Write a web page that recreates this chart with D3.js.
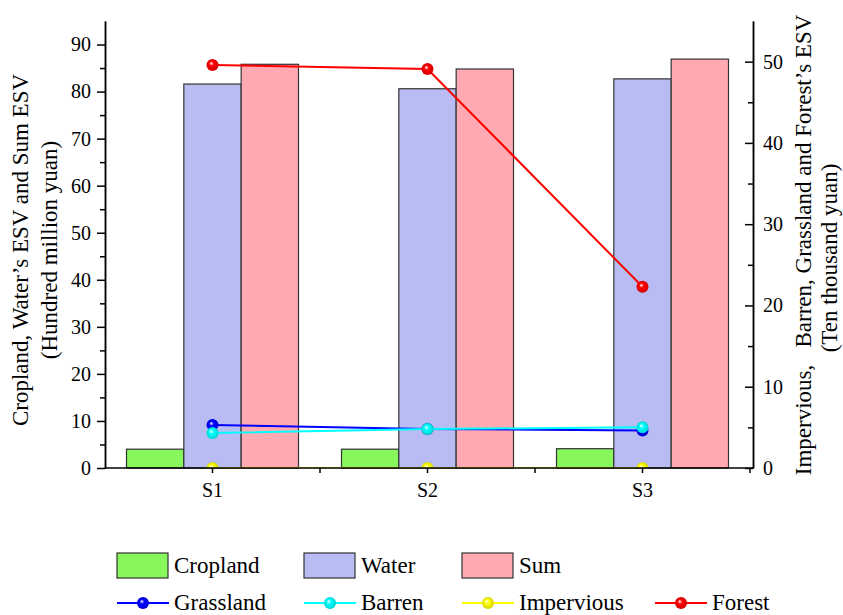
<!DOCTYPE html>
<html>
<head>
<meta charset="utf-8">
<script src="https://cdn.jsdelivr.net/npm/d3@7/dist/d3.min.js"></script>
<style>
  body { margin: 0; background: #fff; }
  svg { font-family: "Liberation Serif", "Times New Roman", serif; }
</style>
</head>
<body>
<div class="canvas"></div>
<script>
"use strict";

// data
const scenarios = ["S1", "S2", "S3"];
const barKeys = ["Cropland", "Water", "Sum"];
const cropland = [4.0, 4.0, 4.1];
const water = [81.6, 80.6, 82.7];
const sum = [85.8, 84.8, 86.9];

const lineKeys = ["Grassland", "Barren", "Impervious", "Forest"];
const grassland = [5.3, 4.8, 4.6];
const barren = [4.3, 4.8, 5.0];
const impervious = [0, 0, 0];
const forest = [49.6, 49.1, 22.3];

const leftTicks = [0, 10, 20, 30, 40, 50, 60, 70, 80, 90];
const rightTicks = [0, 10, 20, 30, 40, 50];

const barColors = { Cropland: "#88f75c", Water: "#b8bcf2", Sum: "#ffaab2" };
const lineColors = { Grassland: "#0000ff", Barren: "#00ffff", Impervious: "#ffff00", Forest: "#ff0000" };

const barData = { Cropland: cropland, Water: water, Sum: sum };
const lineData = { Grassland: grassland, Barren: barren, Impervious: impervious, Forest: forest };

const width = 843, height = 615;
const margin = { top: 21, left: 105, right: 90, bottom: 147 };
const plotBottom = height - margin.bottom; // 468
const plotRight = width - margin.right;    // 753

const svg = d3.select(".canvas").append("svg")
  .attr("width", width)
  .attr("height", height);

// sphere-like marker gradients
const defs = svg.append("defs");
lineKeys.forEach((key) => {
  const g = defs.append("radialGradient")
    .attr("id", `ball-${key}`)
    .attr("cx", "50%").attr("cy", "50%").attr("r", "55%")
    .attr("fx", "38%").attr("fy", "35%");
  g.append("stop").attr("offset", "0%").attr("stop-color", "#ffffff");
  g.append("stop").attr("offset", "35%").attr("stop-color", lineColors[key]);
  g.append("stop").attr("offset", "100%").attr("stop-color", d3.color(lineColors[key]).darker(0.6));
});
defs.append("clipPath").attr("id", "plot-clip")
  .append("rect")
  .attr("x", margin.left).attr("y", 0)
  .attr("width", plotRight - margin.left).attr("height", plotBottom);

const x = d3.scaleBand().domain(scenarios).range([margin.left, plotRight - 3]).padding(0);
const groupW = x.bandwidth() * 0.8;
const xInner = d3.scaleBand().domain(barKeys).range([0, groupW]).padding(0);

const yLeft = d3.scaleLinear().domain([0, 95]).range([plotBottom, margin.top]);
const yRight = d3.scaleLinear().domain([0, 55]).range([plotBottom, margin.top]);

// bars
const groups = svg.append("g").selectAll("g")
  .data(scenarios)
  .join("g")
  .attr("transform", (d) => `translate(${x(d) + (x.bandwidth() - groupW) / 2},0)`);

groups.selectAll("rect")
  .data((d, i) => barKeys.map((k) => ({ key: k, value: barData[k][i] })))
  .join("rect")
  .attr("x", (d) => xInner(d.key))
  .attr("width", xInner.bandwidth())
  .attr("y", (d) => yLeft(d.value))
  .attr("height", (d) => yLeft(0) - yLeft(d.value))
  .attr("fill", (d) => barColors[d.key])
  .attr("stroke", "#333")
  .attr("stroke-width", 1.2);

// lines on right axis, clipped to the plot area
const cx = (d) => x(d) + x.bandwidth() / 2;
const lineLayer = svg.append("g").attr("clip-path", "url(#plot-clip)");
lineKeys.forEach((key) => {
  const pts = scenarios.map((s, i) => [cx(s), yRight(lineData[key][i])]);
  lineLayer.append("path")
    .attr("d", d3.line()(pts))
    .attr("fill", "none")
    .attr("stroke", lineColors[key])
    .attr("stroke-width", 2);
  lineLayer.append("g").selectAll("circle")
    .data(pts)
    .join("circle")
    .attr("cx", (d) => d[0])
    .attr("cy", (d) => d[1])
    .attr("r", 6)
    .attr("fill", `url(#ball-${key})`);
});

// axes
const axisStyle = (g) => {
  g.selectAll("path.domain").attr("stroke", "#000").attr("stroke-width", 1.5);
  g.selectAll(".tick line").attr("stroke", "#000").attr("stroke-width", 1.5);
  g.selectAll("text").attr("font-family", "Liberation Serif").attr("font-size", 20).attr("fill", "#000");
};

svg.append("g")
  .attr("transform", `translate(${margin.left},0)`)
  .call(d3.axisLeft(yLeft).tickValues(d3.range(5, 95, 10)).tickSize(5).tickFormat("").tickSizeOuter(0))
  .call(axisStyle);
svg.append("g")
  .attr("transform", `translate(${margin.left},0)`)
  .call(d3.axisLeft(yLeft).tickValues(leftTicks).tickSize(8).tickPadding(6).tickSizeOuter(0))
  .call(axisStyle);

// right axis ticks point inward
svg.append("g")
  .attr("transform", `translate(${plotRight},0)`)
  .call(d3.axisRight(yRight).tickValues(d3.range(5, 55, 10)).tickSize(-5).tickFormat("").tickSizeOuter(0))
  .call(axisStyle);
svg.append("g")
  .attr("transform", `translate(${plotRight},0)`)
  .call(d3.axisRight(yRight).tickValues(rightTicks).tickSize(-8).tickPadding(10).tickSizeOuter(0))
  .call(axisStyle);

const xAxisG = svg.append("g")
  .attr("transform", `translate(0,${plotBottom})`);
xAxisG.append("line")
  .attr("x1", margin.left).attr("x2", plotRight)
  .attr("stroke", "#000").attr("stroke-width", 1.5);
const xTickPos = scenarios.map((s) => x(s) + x.bandwidth()).concat(scenarios.map(cx));
xAxisG.selectAll("line.tick")
  .data(xTickPos)
  .join("line")
  .attr("class", "tick")
  .attr("x1", (d) => d).attr("x2", (d) => d)
  .attr("y1", 0).attr("y2", 5)
  .attr("stroke", "#000").attr("stroke-width", 1.5);
xAxisG.selectAll("text")
  .data(scenarios)
  .join("text")
  .attr("x", cx)
  .attr("y", 29)
  .attr("text-anchor", "middle")
  .attr("font-size", 20)
  .text((d) => d);

// axis titles
svg.append("text")
  .attr("transform", "translate(28,250) rotate(-90)")
  .attr("text-anchor", "middle")
  .attr("font-size", 23)
  .text("Cropland, Water\u2019s ESV and Sum ESV");
svg.append("text")
  .attr("transform", "translate(57,250) rotate(-90)")
  .attr("text-anchor", "middle")
  .attr("font-size", 23)
  .text("(Hundred million yuan)");

svg.append("text")
  .attr("transform", "translate(811,245) rotate(-90)")
  .attr("text-anchor", "middle")
  .attr("font-size", 23)
  .text("Impervious,\u00a0\u00a0\u00a0Barren, Grassland and Forest\u2019s ESV");
svg.append("text")
  .attr("transform", "translate(837,258) rotate(-90)")
  .attr("text-anchor", "middle")
  .attr("font-size", 23)
  .text("(Ten thousand yuan)");

// legend
const legend = svg.append("g").attr("font-size", 23);
const row1 = [{ key: "Cropland", x: 117 }, { key: "Water", x: 304 }, { key: "Sum", x: 462 }];
const row2 = [{ key: "Grassland", x: 117 }, { key: "Barren", x: 304 }, { key: "Impervious", x: 462 }, { key: "Forest", x: 655 }];

row1.forEach((d) => {
  legend.append("rect")
    .attr("x", d.x).attr("y", 553)
    .attr("width", 51).attr("height", 25)
    .attr("fill", barColors[d.key])
    .attr("stroke", "#333").attr("stroke-width", 1.2);
  legend.append("text")
    .attr("x", d.x + 57).attr("y", 573)
    .text(d.key);
});
row2.forEach((d) => {
  legend.append("line")
    .attr("x1", d.x).attr("x2", d.x + 52)
    .attr("y1", 603).attr("y2", 603)
    .attr("stroke", lineColors[d.key]).attr("stroke-width", 2);
  legend.append("circle")
    .attr("cx", d.x + 26).attr("cy", 603).attr("r", 6)
    .attr("fill", `url(#ball-${d.key})`);
  legend.append("text")
    .attr("x", d.x + 57).attr("y", 610)
    .text(d.key);
});
</script>
</body>
</html>
